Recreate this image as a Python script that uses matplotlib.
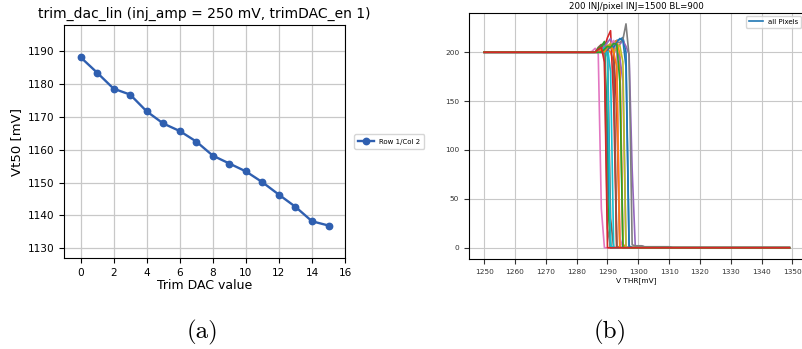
import numpy as np
import matplotlib.pyplot as plt

# --- panel (a): trim DAC linearity ---
trim_dac = [0, 1, 2, 3, 4, 5, 6, 7, 8, 9, 10, 11, 12, 13, 14, 15]
vt50 = [1188.2, 1183.5, 1178.6, 1176.8, 1171.7, 1168.0, 1165.7, 1162.5,
        1158.2, 1155.8, 1153.4, 1150.1, 1146.3, 1142.6, 1138.2, 1136.9]

# --- panel (b): S-curves, hits per pixel vs threshold ---
vthr = np.arange(1250, 1350)          # scan points [mV]
win_start = 1284                      # transition window start [mV]
# hits from 1284 mV onwards (before: 200, after: 0)
scurves = [
    [200, 200, 200, 200, 200, 204, 206, 208, 210, 212, 213, 215, 200, 2],
    [200, 200, 200, 200, 202, 205, 203, 200, 190, 2],
    [200, 200, 200, 200, 205, 210, 120, 1],
    [200, 200, 200, 200, 200, 205, 215, 222, 150, 0],
    [200, 200, 200, 200, 200, 200, 202, 206, 210, 205, 208, 212, 206, 198, 80, 2, 2],
    [200, 200, 200, 205, 208, 200, 200, 30, 0],
    [200, 201, 204, 198, 40, 0],
    [200, 200, 200, 200, 200, 200, 204, 205, 208, 210, 210, 213, 229, 196, 3, 2, 2],
    [200, 200, 200, 200, 200, 202, 204, 206, 208, 205, 190, 0],
    [200, 200, 200, 200, 200, 203, 205, 180, 0],
    [200, 200, 200, 202, 204, 200, 100, 0],
    [200, 200, 200, 200, 203, 205, 207, 205, 209, 212, 198, 4, 0],
    [200, 200, 200, 204, 206, 211, 50, 0],
    [200, 200, 200, 200, 201, 200, 204, 208, 203, 140, 0],
    [200, 200, 200, 200, 202, 206, 210, 214, 205, 200, 195, 170, 0],
    [200, 200, 200, 200, 200, 204, 202, 206, 200, 0],
    [200, 200, 200, 200, 200, 200, 204, 208, 212, 200, 10, 0],
    [200, 200, 200, 202, 200, 198, 20, 0],
    [200, 200, 200, 200, 200, 203, 206, 209, 200, 205, 207, 190, 0],
    [200, 200, 200, 200, 201, 205, 195, 2, 0],
    [200, 200, 200, 200, 200, 200, 203, 207, 205, 210, 214, 212, 185, 1, 0],
    [200, 200, 200, 200, 203, 200, 205, 207, 200, 185, 0],
    [200, 200, 200, 200, 200, 203, 206, 205, 209, 208, 170, 0],
    [200, 200, 200, 203, 205, 190, 0],
]
# small residual hits after the edge for a few pixels (from 1301 mV)
tails = {4: [2, 1, 1, 1, 1, 1, 1, 1, 1, 1], 7: [2, 1, 1, 1, 1, 1, 1, 1, 1, 1]}

fig = plt.figure(figsize=(8.03, 3.49), dpi=100)

ax1 = fig.add_axes([0.0797, 0.2607, 0.350, 0.6676])
ax1.plot(trim_dac, vt50, 'o-', color='#2f5fb0', linewidth=1.7, markersize=4.6,
         label='Row 1/Col 2')
ax1.set_xlim(-1, 16)
ax1.set_ylim(1127, 1198)
ax1.set_xticks(np.arange(0, 17, 2))
ax1.set_yticks(np.arange(1130, 1191, 10))
ax1.grid(True, color='#c8c8c8', linewidth=0.9)
ax1.set_axisbelow(True)
ax1.tick_params(labelsize=7.6)
ax1.set_title('trim_dac_lin (inj_amp = 250 mV, trimDAC_en 1)', fontsize=10, pad=5)
ax1.set_xlabel('Trim DAC value', fontsize=9, labelpad=1)
ax1.set_ylabel('Vt50 [mV]', fontsize=9.5, labelpad=3)
ax1.legend(loc='center left', bbox_to_anchor=(1.02, 0.5), fontsize=5,
           handlelength=2.2, borderpad=0.6)

ax2 = fig.add_axes([0.584, 0.258, 0.418, 0.7057])
for i, trans in enumerate(scurves):
    hits = np.zeros(len(vthr))
    hits[vthr < win_start] = 200
    k0 = win_start - vthr[0]
    hits[k0:k0 + len(trans)] = trans
    if i in tails:
        t0 = 1301 - vthr[0]
        hits[t0:t0 + len(tails[i])] = tails[i]
    ax2.plot(vthr, hits, linewidth=1.2, label='all Pixels' if i == 0 else None)
ax2.set_xticks(np.arange(1250, 1351, 10))
ax2.set_yticks(np.arange(0, 201, 50))
ax2.grid(True, color='#c8c8c8', linewidth=0.8)
ax2.tick_params(labelsize=5.3, colors='#333333')
ax2.set_title('200 INJ/pixel INJ=1500 BL=900', fontsize=6.2, pad=3)
ax2.set_xlabel('V THR[mV]', fontsize=5.3, labelpad=2)
ax2.legend(loc='upper right', fontsize=5)

fig.text(0.2516, 0.046, '(a)', fontsize=18, family='cmr10', ha='center', va='center')
fig.text(0.7597, 0.046, '(b)', fontsize=18, family='cmr10', ha='center', va='center')

fig.savefig('out.png', dpi=100)
